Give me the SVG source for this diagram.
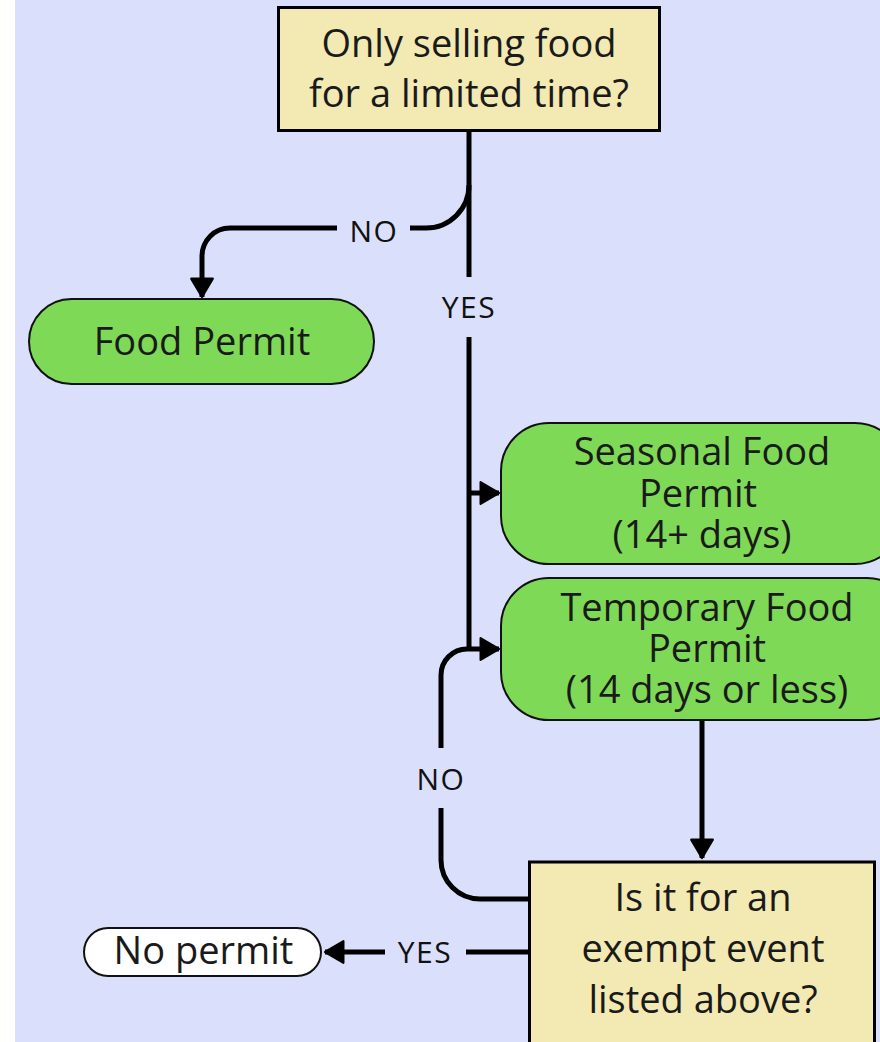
<svg xmlns="http://www.w3.org/2000/svg" width="880" height="1042" viewBox="0 0 880 1042">
<defs>
<style>
.q{fill:#f2e9b3;stroke:#000;stroke-width:3}
.g{fill:#7ed957;stroke:#111;stroke-width:2}
.w{fill:#fff;stroke:#111;stroke-width:2}
.t{font-family:"Open Sans","Noto Sans",sans-serif;font-size:38px;fill:#1a1a1a;text-anchor:middle}
.l{font-family:"Open Sans","Noto Sans",sans-serif;font-size:30px;letter-spacing:1.5px;fill:#111;text-anchor:middle}
.c{fill:none;stroke:#000;stroke-width:5}
</style>
<marker id="ah" markerUnits="userSpaceOnUse" markerWidth="24" markerHeight="26" refX="18" refY="12" orient="auto" viewBox="0 0 20 24">
<path d="M1,2 L18,12 L1,22 z" fill="#000" stroke="#000" stroke-width="2" stroke-linejoin="round"/>
</marker>
</defs>
<rect x="15" y="0" width="865" height="1042" fill="#dae0fb"/>
<g id="connectors">
<path class="c" d="M469 132 V277"/>
<path class="c" d="M469 337 V649"/>
<path class="c" d="M469 493 H499" marker-end="url(#ah)"/>
<path class="c" d="M469 185 A43 43 0 0 1 426 228 H410"/>
<path class="c" d="M337 228 H230 A28 28 0 0 0 202 256 V297" marker-end="url(#ah)"/>
<path class="c" d="M528 899 H480 A39 39 0 0 1 441 860 V808"/>
<path class="c" d="M441 748 V675 A26 26 0 0 1 467 649 H499" marker-end="url(#ah)"/>
<path class="c" d="M702 720 V858" marker-end="url(#ah)"/>
<path class="c" d="M528 952 H466"/>
<path class="c" d="M385 952 H325" marker-end="url(#ah)"/>
<text class="l" x="374" y="242">NO</text>
<text class="l" x="469" y="318">YES</text>
<text class="l" x="441" y="790">NO</text>
<text class="l" x="425" y="963">YES</text>
</g>
<g id="start">
<rect class="q" x="278.5" y="7.5" width="381" height="123"/>
<text class="t" x="469" y="57">Only selling food</text>
<text class="t" x="469" y="107">for a limited time?</text>
</g>
<g id="food-permit">
<rect class="g" x="29" y="299" width="345" height="85" rx="42.5"/>
<text class="t" x="202" y="355">Food Permit</text>
</g>
<g id="seasonal">
<rect class="g" x="501" y="423" width="402" height="141" rx="48"/>
<text class="t" x="702" y="465">Seasonal Food</text>
<text class="t" x="698" y="507">Permit</text>
<text class="t" x="702" y="548">(14+ days)</text>
</g>
<g id="temporary">
<rect class="g" x="501" y="578" width="414" height="142" rx="48"/>
<text class="t" x="707" y="621">Temporary Food</text>
<text class="t" x="707" y="662">Permit</text>
<text class="t" x="707" y="703">(14 days or less)</text>
</g>
<g id="decision">
<rect class="q" x="529.5" y="862" width="345" height="200"/>
<text class="t" x="703" y="911">Is it for an</text>
<text class="t" x="703" y="962">exempt event</text>
<text class="t" x="703" y="1013">listed above?</text>
</g>
<g id="no-permit">
<rect class="w" x="84" y="928" width="237" height="48" rx="24"/>
<text class="t" x="203.5" y="964">No permit</text>
</g>
</svg>
